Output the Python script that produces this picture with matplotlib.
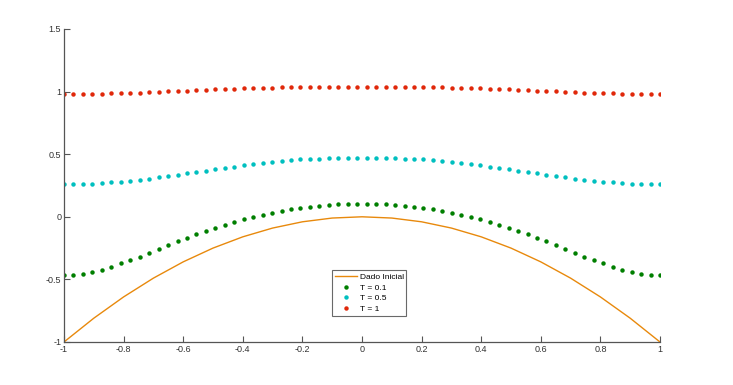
import numpy as np
import matplotlib
matplotlib.use("Agg")
import matplotlib.pyplot as plt

plt.rcParams['font.family'] = ['Liberation Sans', 'DejaVu Sans']

# ---- data ----
x_init = [-1.0, -0.9, -0.8, -0.7, -0.6, -0.5, -0.4, -0.3, -0.2, -0.1, 0.0,
          0.1, 0.2, 0.3, 0.4, 0.5, 0.6, 0.7, 0.8, 0.9, 1.0]
y_init = [-1.0, -0.81, -0.64, -0.49, -0.36, -0.25, -0.16, -0.09, -0.04, -0.01, 0.0,
          -0.01, -0.04, -0.09, -0.16, -0.25, -0.36, -0.49, -0.64, -0.81, -1.0]

half_t01 = [-0.467, -0.465, -0.455, -0.441, -0.422, -0.398, -0.373, -0.346, -0.318, -0.287,
            -0.256, -0.226, -0.196, -0.167, -0.140, -0.113, -0.087, -0.062, -0.040, -0.019,
            0.000, 0.017, 0.034, 0.048, 0.060, 0.072, 0.082, 0.090, 0.096, 0.101, 0.104, 0.105]
half_t05 = [0.262, 0.260, 0.263, 0.265, 0.269, 0.275, 0.281, 0.288, 0.296, 0.305,
            0.315, 0.325, 0.336, 0.347, 0.357, 0.368, 0.379, 0.390, 0.401, 0.412,
            0.422, 0.431, 0.440, 0.447, 0.453, 0.458, 0.462, 0.465, 0.468, 0.470, 0.471, 0.472]
half_t1 = [0.978, 0.977, 0.978, 0.981, 0.983, 0.985, 0.987, 0.989, 0.992, 0.995,
           0.998, 1.002, 1.005, 1.008, 1.011, 1.014, 1.017, 1.020, 1.022, 1.025,
           1.027, 1.029, 1.031, 1.033, 1.034, 1.036, 1.037, 1.038, 1.039, 1.040, 1.040, 1.040]

y_t01 = half_t01 + half_t01[::-1]
y_t05 = half_t05 + half_t05[::-1]
y_t1 = half_t1 + half_t1[::-1]
x_dots = np.linspace(-1, 1, len(y_t01))

xticks = [-1, -0.8, -0.6, -0.4, -0.2, 0, 0.2, 0.4, 0.6, 0.8, 1]
xticklabels = ['-1', '-0.8', '-0.6', '-0.4', '-0.2', '0', '0.2', '0.4', '0.6', '0.8', '1']
yticks = [-1, -0.5, 0, 0.5, 1, 1.5]
yticklabels = ['-1', '-0.5', '0', '0.5', '1', '1.5']
labels = ['Dado Inicial', 'T = 0.1', 'T = 0.5', 'T = 1']

# ---- figure ----
fig = plt.figure(figsize=(7.33, 3.85), dpi=100)
ax = fig.add_axes([0.0873, 0.1117, 0.8131, 0.813])

ax.plot(x_init, y_init, color='#E8890C', lw=1.0, label=labels[0])
ax.plot(x_dots, y_t01, 'o', color='#007F00', ms=3.2, mew=0, label=labels[1])
ax.plot(x_dots, y_t05, 'o', color='#00BFBF', ms=3.2, mew=0, label=labels[2])
ax.plot(x_dots, y_t1, 'o', color='#E0280A', ms=3.2, mew=0, label=labels[3])

ax.set_xlim(-1, 1)
ax.set_ylim(-1, 1.5)
ax.set_xticks(xticks)
ax.set_xticklabels(xticklabels)
ax.set_yticks(yticks)
ax.set_yticklabels(yticklabels)

for s in ['top', 'right']:
    ax.spines[s].set_visible(False)
for s in ['left', 'bottom']:
    ax.spines[s].set_color('#555555')
    ax.spines[s].set_linewidth(0.9)
ax.tick_params(direction='in', length=4.3, width=0.8, color='#555555',
               labelsize=6.5, labelcolor='#333333', pad=2)

leg = ax.legend(loc='lower left', bbox_to_anchor=(0.45, 0.083, 0.124, 0.153),
                mode='expand', fontsize=6, frameon=True, fancybox=False,
                edgecolor='#444444', handlelength=2.6, handletextpad=0.4,
                borderpad=0.35, labelspacing=0.35, borderaxespad=0)
leg.get_frame().set_linewidth(0.8)

fig.savefig('out.png', dpi=100)
